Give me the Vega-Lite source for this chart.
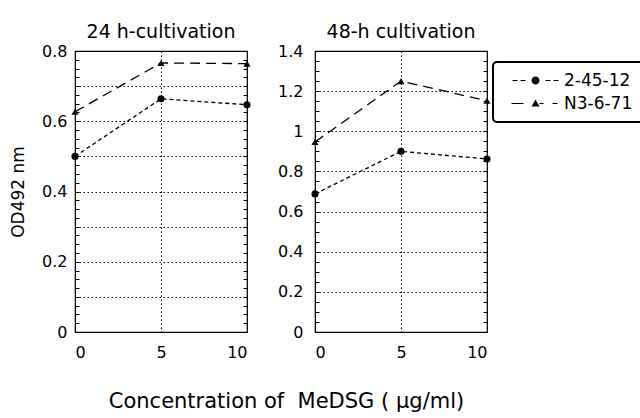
{
  "$schema": "https://vega.github.io/schema/vega-lite/v6.json",
  "padding": {"left": 8, "top": 22, "right": 0, "bottom": 5},
  "datasets": {
    "d": [
      {"panel": "24", "strain": "2-45-12", "conc": 0, "od": 0.5},
      {"panel": "24", "strain": "2-45-12", "conc": 5, "od": 0.664},
      {"panel": "24", "strain": "2-45-12", "conc": 10, "od": 0.647},
      {"panel": "24", "strain": "N3-6-71", "conc": 0, "od": 0.627},
      {"panel": "24", "strain": "N3-6-71", "conc": 5, "od": 0.766},
      {"panel": "24", "strain": "N3-6-71", "conc": 10, "od": 0.764},
      {"panel": "48", "strain": "2-45-12", "conc": 0, "od": 0.688},
      {"panel": "48", "strain": "2-45-12", "conc": 5, "od": 0.9},
      {"panel": "48", "strain": "2-45-12", "conc": 10, "od": 0.862},
      {"panel": "48", "strain": "N3-6-71", "conc": 0, "od": 0.947},
      {"panel": "48", "strain": "N3-6-71", "conc": 5, "od": 1.25},
      {"panel": "48", "strain": "N3-6-71", "conc": 10, "od": 1.152}
    ]
  },
  "config": {
    "font": "DejaVu Sans",
    "view": {"stroke": "black", "strokeWidth": 1.2},
    "axis": {
      "labelColor": "black", "titleColor": "black", "tickColor": "black",
      "gridColor": "black", "gridDash": [1.5, 2.5], "gridWidth": 1, "gridOpacity": 1,
      "labelFontSize": 16, "titleFontSize": 17, "titleFontWeight": "normal",
      "domain": false, "labelOverlap": false
    },
    "legend": {"strokeWidth": 2},
    "title": {"fontSize": 19, "fontWeight": "normal", "color": "black"}
  },
  "title": {"text": "Concentration of\u00a0 MeDSG ( μg/ml)", "orient": "bottom", "anchor": "middle", "fontSize": 21, "offset": 30, "dx": -40},
  "spacing": 24,
  "hconcat": [
    {
      "width": 172, "height": 281,
      "title": {"text": "24 h-cultivation", "offset": 1},
      "data": {"name": "d"},
      "transform": [{"filter": "datum.panel == '24'"}],
      "encoding": {
        "x": {"field": "conc", "type": "quantitative", "scale": {"domain": [0, 10], "nice": false},
              "axis": {"values": [0, 5, 10], "ticks": false, "tickSize": 0, "labelPadding": 12, "labelFlush": true, "title": null, "grid": true}}
      },
      "layer": [
        {
          "encoding": {
            "y": {"field": "od", "type": "quantitative", "scale": {"domain": [0, 0.8], "nice": false},
                  "axis": {"orient": "left", "title": "OD492 nm", "titlePadding": 14,
                           "values": [0,0.025,0.05,0.075,0.1,0.125,0.15,0.175,0.2,0.225,0.25,0.275,0.3,0.325,0.35,0.375,0.4,0.425,0.45,0.475,0.5,0.525,0.55,0.575,0.6,0.625,0.65,0.675,0.7,0.725,0.75,0.775,0.8],
                           "ticks": true, "tickWidth": 1, "tickSize": -4, "labelPadding": 12, "labelFlush": false,
                           "labelExpr": "abs(datum.value*5 - round(datum.value*5)) < 0.0001 ? format(datum.value, '~g') : ''",
                           "grid": true,
                           "gridOpacity": {"condition": {"test": "abs(datum.value*10 - round(datum.value*10)) < 0.0001", "value": 1}, "value": 0}}}
          },
          "layer": [
            {"transform": [{"filter": "datum.strain == '2-45-12'"}],
             "mark": {"type": "line", "color": "black", "strokeWidth": 1.3, "strokeDash": [4, 3]}},
            {"transform": [{"filter": "datum.strain == 'N3-6-71'"}],
             "mark": {"type": "line", "color": "black", "strokeWidth": 1.3, "strokeDash": [10, 6]}},
            {"transform": [{"filter": "datum.strain == '2-45-12'"}],
             "mark": {"type": "point", "filled": true, "color": "black", "size": 50, "opacity": 1, "shape": "circle"}},
            {"transform": [{"filter": "datum.strain == 'N3-6-71'"}],
             "mark": {"type": "point", "filled": true, "color": "black", "size": 50, "opacity": 1, "shape": "triangle-up"}}
          ]
        },
        {
          "mark": {"type": "point", "opacity": 0},
          "encoding": {
            "y": {"field": "od", "type": "quantitative", "scale": {"domain": [0, 0.8], "nice": false},
                  "axis": {"orient": "right", "title": null, "labels": false, "grid": false, "ticks": true, "tickWidth": 1, "tickSize": -4,
                           "values": [0,0.025,0.05,0.075,0.1,0.125,0.15,0.175,0.2,0.225,0.25,0.275,0.3,0.325,0.35,0.375,0.4,0.425,0.45,0.475,0.5,0.525,0.55,0.575,0.6,0.625,0.65,0.675,0.7,0.725,0.75,0.775,0.8]}}
          }
        }
      ],
      "resolve": {"scale": {"y": "independent"}, "axis": {"y": "independent"}}
    },
    {
      "width": 172, "height": 281,
      "title": {"text": "48-h cultivation", "offset": 1},
      "data": {"name": "d"},
      "transform": [{"filter": "datum.panel == '48'"}],
      "encoding": {
        "x": {"field": "conc", "type": "quantitative", "scale": {"domain": [0, 10], "nice": false},
              "axis": {"values": [0, 5, 10], "ticks": false, "tickSize": 0, "labelPadding": 12, "labelFlush": true, "title": null, "grid": true}}
      },
      "layer": [
        {
          "encoding": {
            "y": {"field": "od", "type": "quantitative", "scale": {"domain": [0, 1.4], "nice": false},
                  "axis": {"orient": "left", "title": null,
                           "values": [0,0.05,0.1,0.15,0.2,0.25,0.3,0.35,0.4,0.45,0.5,0.55,0.6,0.65,0.7,0.75,0.8,0.85,0.9,0.95,1,1.05,1.1,1.15,1.2,1.25,1.3,1.35,1.4],
                           "ticks": true, "tickWidth": 1, "tickSize": -4, "labelPadding": 16, "labelFlush": false,
                           "labelExpr": "abs(datum.value*5 - round(datum.value*5)) < 0.0001 ? format(datum.value, '~g') : ''",
                           "grid": true,
                           "gridOpacity": {"condition": {"test": "abs(datum.value*5 - round(datum.value*5)) < 0.0001", "value": 1}, "value": 0}}}
          },
          "layer": [
            {"transform": [{"filter": "datum.strain == '2-45-12'"}],
             "mark": {"type": "line", "color": "black", "strokeWidth": 1.3, "strokeDash": [4, 3]}},
            {"transform": [{"filter": "datum.strain == 'N3-6-71'"}],
             "mark": {"type": "line", "color": "black", "strokeWidth": 1.3, "strokeDash": [10, 6]}},
            {"transform": [{"filter": "datum.strain == '2-45-12'"}],
             "mark": {"type": "point", "filled": true, "color": "black", "size": 50, "opacity": 1, "shape": "circle"}},
            {"transform": [{"filter": "datum.strain == 'N3-6-71'"}],
             "mark": {"type": "point", "filled": true, "color": "black", "size": 50, "opacity": 1, "shape": "triangle-up"}},
            {"transform": [{"filter": "datum.od < 0"}],
             "mark": {"type": "point", "filled": true, "color": "black", "size": 100, "opacity": 1},
             "encoding": {"shape": {"field": "strain", "type": "nominal",
                "scale": {"domain": ["2-45-12", "N3-6-71"],
                          "range": ["M-4.6,-0.12H-3.6V0.12H-4.6Z M-3,-0.12H-2V0.12H-3Z M-0.8,0A0.8,0.8 0 1,0 0.8,0A0.8,0.8 0 1,0 -0.8,0Z M2,-0.12H3V0.12H2Z M3.6,-0.12H4.6V0.12H3.6Z",
                                    "M-4.8,-0.12H-2.4V0.12H-4.8Z M-0.8,0.6L0.8,0.6L0,-0.8Z M0.8,-0.12H1.6V0.12H0.8Z M3.4,-0.12H4.4V0.12H3.4Z"]},
                "legend": {"orient": "none", "legendX": 418, "legendY": 11, "title": null,
                           "symbolSize": 100, "symbolOffset": 24, "labelOffset": 20, "labelFontSize": 17, "labelColor": "black",
                           "padding": 10, "rowPadding": 5, "strokeColor": "black", "fillColor": "white", "cornerRadius": 4,
                           "symbolStrokeWidth": 0, "symbolFillColor": "black"}}}}
          ]
        },
        {
          "mark": {"type": "point", "opacity": 0},
          "encoding": {
            "y": {"field": "od", "type": "quantitative", "scale": {"domain": [0, 1.4], "nice": false},
                  "axis": {"orient": "right", "title": null, "labels": false, "grid": false, "ticks": true, "tickWidth": 1, "tickSize": -4,
                           "values": [0,0.05,0.1,0.15,0.2,0.25,0.3,0.35,0.4,0.45,0.5,0.55,0.6,0.65,0.7,0.75,0.8,0.85,0.9,0.95,1,1.05,1.1,1.15,1.2,1.25,1.3,1.35,1.4]}}
          }
        }
      ],
      "resolve": {"scale": {"y": "independent"}, "axis": {"y": "independent"}}
    }
  ]
}
